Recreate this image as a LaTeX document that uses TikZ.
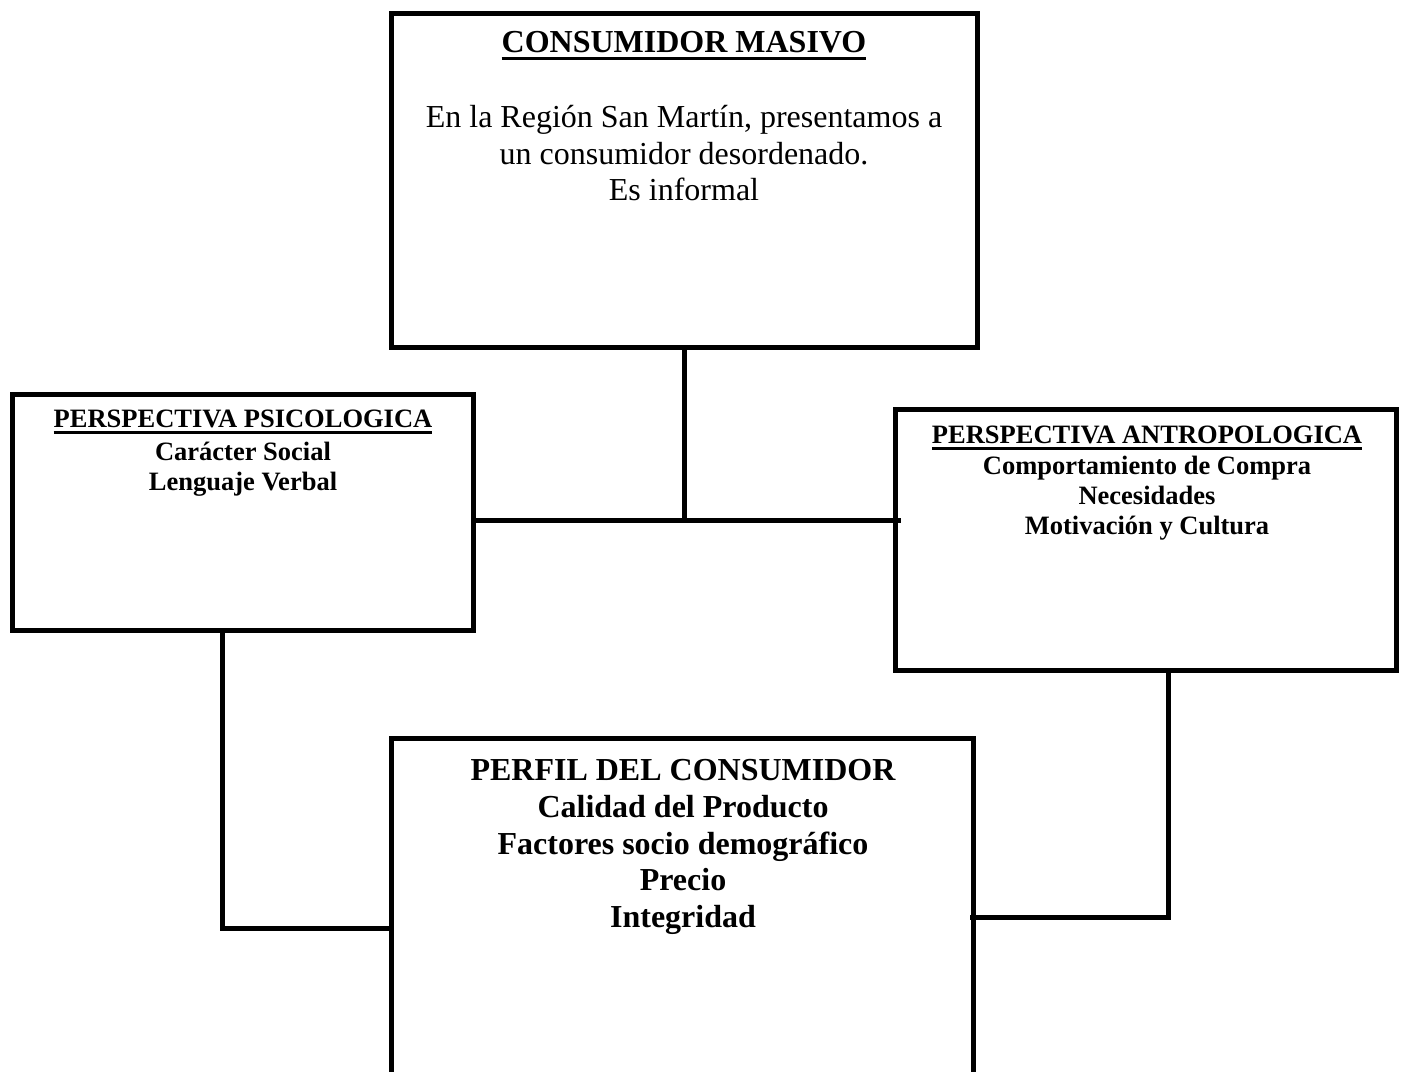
\documentclass[tikz,border=0pt]{standalone}
\usepackage{fontspec}
\setmainfont{Liberation Serif}
\newcommand{\myul}[1]{\leavevmode\setbox0\hbox{#1}\rlap{\rule[-7pt]{\wd0}{3pt}}\box0}
\newcommand{\myuls}[1]{\leavevmode\setbox0\hbox{#1}\rlap{\rule[-6.5pt]{\wd0}{2.7pt}}\box0}
\tikzset{
  box/.style={draw=black, line width=5pt, rectangle, inner sep=0pt, outer sep=0pt},
  conn/.style={draw=black, line width=5pt},
  bigtxt/.style={anchor=base, inner sep=0pt, font=\fontsize{32}{36}\selectfont},
  bigbold/.style={anchor=base, inner sep=0pt, font=\fontsize{32}{36}\selectfont\bfseries},
  smallbold/.style={anchor=base, inner sep=0pt, font=\fontsize{26.5}{30}\selectfont\bfseries}
}
\begin{document}
\begin{tikzpicture}[x=1pt, y=-1pt]
\useasboundingbox (0,0) rectangle (1403,1071);
\clip (0,0) rectangle (1403,1071);
\fill[white] (0,0) rectangle (1403,1071);

% boxes
\node[box, minimum width=586pt, minimum height=334pt] (masivo) at (684,180) {};
\node[box, minimum width=461.5pt, minimum height=236pt] (psico) at (242.75,512) {};
\node[box, minimum width=500.3pt, minimum height=261pt] (antro) at (1145.85,539.5) {};
\node[box, minimum width=582pt, minimum height=352pt] (perfil) at (682,914) {};

% top box text
\node[bigbold] (t1) at (684,52.5) {\myul{CONSUMIDOR MASIVO}};
\node[bigtxt] (t2) at (684,127.5) {En la Región San Martín, presentamos a};
\node[bigtxt] (t3) at (684,164.5) {un consumidor desordenado.};
\node[bigtxt] (t4) at (684,200.5) {Es informal};

% left box text
\node[smallbold] (l1) at (243,427) {\myuls{PERSPECTIVA PSICOLOGICA}};
\node[smallbold] (l2) at (243,460) {Carácter Social};
\node[smallbold] (l3) at (243,490.5) {Lenguaje Verbal};

% right box text
\node[smallbold] (r1) at (1147,443.5) {\myuls{PERSPECTIVA ANTROPOLOGICA}};
\node[smallbold] (r2) at (1147,474.5) {Comportamiento de Compra};
\node[smallbold] (r3) at (1147,504.5) {Necesidades};
\node[smallbold] (r4) at (1147,534.5) {Motivación y Cultura};

% bottom box text
\node[bigbold] (b1) at (683,780) {PERFIL DEL CONSUMIDOR};
\node[bigbold] (b2) at (683,817) {Calidad del Producto};
\node[bigbold] (b3) at (683,854) {Factores socio demográfico};
\node[bigbold] (b4) at (683,890.5) {Precio};
\node[bigbold] (b5) at (683,927) {Integridad};

% connectors
\coordinate (j) at (684,520);
\coordinate (lk) at (222,928);
\coordinate (rk) at (1168,917);
\draw[conn] (masivo.south) -- (j);
\draw[conn] (psico.east |- j) -- ([xshift=5pt]antro.west |- j);
\draw[conn] (lk |- psico.south) -- (lk) -- (lk -| perfil.west);
\draw[conn] (rk |- antro.south) -- (rk) -- ([xshift=-3pt]rk -| perfil.east);
\end{tikzpicture}
\end{document}
